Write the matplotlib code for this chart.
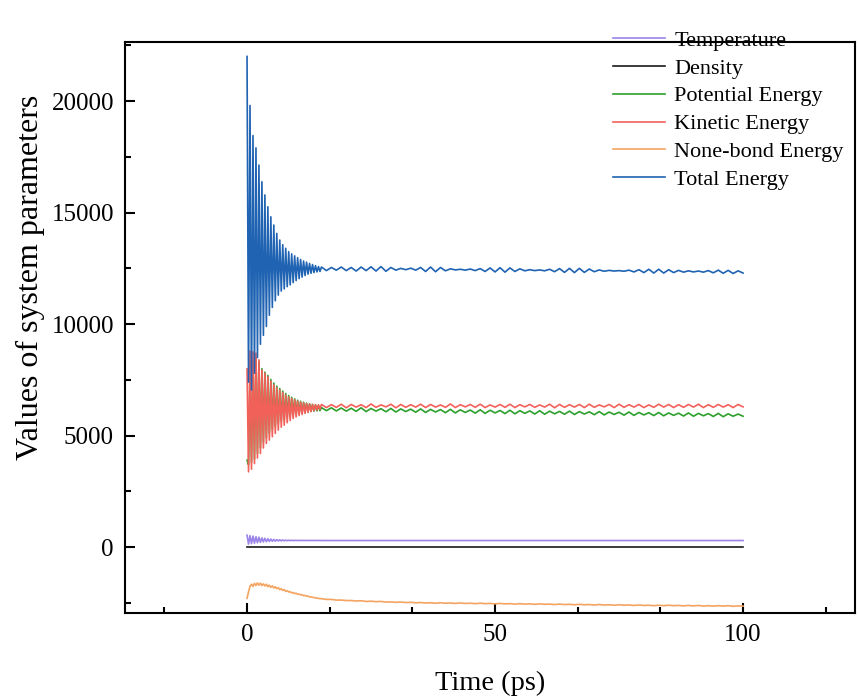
import numpy as np
import matplotlib
matplotlib.use("Agg")
import matplotlib.pyplot as plt
from matplotlib.ticker import MultipleLocator

plt.rcParams["font.family"] = ["Liberation Serif", "DejaVu Serif"]

# ── data ───────────────────────────────────────────────────────────────────
# fast part (0 - 14.7 ps): alternating crest / trough every 0.3 ps
t_fast = np.linspace(0, 14.7, 50)
# slow part (15 - 100 ps): one value per ps
t_slow = np.linspace(15, 100, 86)

total_crest = [22000, 19800, 18450, 17900, 17130, 16380, 15790, 15260, 14810, 14440,
               14070, 13770, 13560, 13400, 13250, 13150, 13060, 12980, 12900, 12830,
               12780, 12720, 12670, 12620, 12580]
total_trough = [7400, 7050, 7800, 8500, 9100, 9500, 9900, 10400, 10750, 11050,
                11300, 11480, 11580, 11680, 11760, 11860, 11950, 12040, 12110, 12180,
                12240, 12280, 12310, 12340, 12360]
total_slow = [12560, 12400, 12540, 12420, 12560, 12400, 12540, 12380, 12560, 12400,
              12570, 12380, 12580, 12370, 12540, 12420, 12500, 12440, 12510, 12420,
              12540, 12360, 12560, 12350, 12540, 12390, 12480, 12430, 12460, 12420,
              12470, 12400, 12490, 12360, 12520, 12340, 12530, 12330, 12520, 12360,
              12480, 12390, 12440, 12400, 12430, 12390, 12460, 12350, 12490, 12320,
              12500, 12310, 12500, 12320, 12470, 12350, 12430, 12370, 12410, 12380,
              12400, 12370, 12420, 12340, 12440, 12310, 12460, 12290, 12460, 12290,
              12440, 12310, 12410, 12330, 12390, 12340, 12380, 12330, 12400, 12300,
              12420, 12280, 12410, 12270, 12390, 12290]

kin_crest = [8000, 8800, 8760, 8700, 8400, 7940, 7800, 7640, 7450, 7280,
             7150, 7040, 6940, 6820, 6740, 6670, 6610, 6550, 6510, 6470,
             6440, 6420, 6400, 6390, 6380]
kin_trough = [3380, 3500, 3750, 4000, 4200, 4450, 4650, 4800, 4950, 5100,
              5250, 5380, 5470, 5580, 5680, 5770, 5840, 5900, 5950, 6000,
              6040, 6080, 6120, 6150, 6180]
kin_slow = [6400, 6260, 6390, 6270, 6410, 6250, 6400, 6280, 6390, 6260,
            6420, 6270, 6380, 6290, 6410, 6250, 6400, 6270, 6390, 6280,
            6410, 6260, 6400, 6280, 6380, 6270, 6420, 6260, 6390, 6290,
            6400, 6270, 6410, 6260, 6380, 6280, 6400, 6270, 6410, 6260,
            6390, 6290, 6400, 6270, 6380, 6280, 6410, 6250, 6400, 6270,
            6390, 6280, 6400, 6260, 6410, 6270, 6380, 6290, 6400, 6260,
            6410, 6270, 6390, 6280, 6400, 6260, 6380, 6270, 6410, 6280,
            6400, 6260, 6390, 6270, 6400, 6280, 6410, 6260, 6390, 6270,
            6400, 6280, 6390, 6260, 6400, 6290]

pot_crest = [3900, 7800, 8300, 8500, 8300, 8000, 7850, 7700, 7520, 7360,
             7220, 7110, 7000, 6890, 6800, 6720, 6650, 6590, 6540, 6500,
             6460, 6430, 6400, 6380, 6360]
pot_trough = [3700, 3800, 3950, 4200, 4450, 4700, 4900, 5100, 5280, 5420,
              5550, 5660, 5750, 5830, 5890, 5940, 5980, 6010, 6040, 6060,
              6080, 6090, 6100, 6110, 6120]
pot_slow = [6260, 6120, 6250, 6110, 6240, 6100, 6230, 6090, 6250, 6080,
            6220, 6100, 6210, 6070, 6220, 6060, 6200, 6080, 6190, 6050,
            6200, 6040, 6180, 6060, 6170, 6030, 6180, 6020, 6160, 6040,
            6150, 6010, 6160, 6000, 6140, 6020, 6130, 5990, 6140, 5980,
            6120, 6000, 6110, 5970, 6120, 5960, 6100, 5980, 6090, 5960,
            6100, 5950, 6080, 5970, 6070, 5940, 6080, 5930, 6060, 5950,
            6050, 5920, 6060, 5910, 6040, 5930, 6030, 5900, 6040, 5890,
            6020, 5910, 6010, 5880, 6020, 5870, 6000, 5890, 5990, 5860,
            6000, 5850, 5980, 5870, 5970, 5870]

temp_crest = [540, 520, 500, 470, 450, 420, 400, 380, 365, 350,
              340, 332, 326, 320, 316, 313, 311, 309, 308, 307,
              306, 305, 304, 304, 303]
temp_trough = [140, 160, 180, 200, 220, 235, 248, 258, 266, 273,
               279, 284, 288, 291, 293, 295, 296, 297, 298, 298,
               299, 299, 299, 300, 300]
temp_slow = [300] * 86

density_fast = [1.0] * 50
density_slow = [1.0] * 86

nb_fast = [-2290, -2000, -1750, -1660, -1760, -1620, -1720, -1600, -1700, -1610,
           -1720, -1640, -1740, -1660, -1770, -1700, -1800, -1730, -1830, -1770,
           -1860, -1810, -1900, -1860, -1940, -1900, -1980, -1950, -2010, -1990,
           -2050, -2030, -2080, -2060, -2110, -2100, -2140, -2130, -2170, -2160,
           -2200, -2190, -2230, -2220, -2250, -2250, -2280, -2270, -2300, -2300]
nb_slow = [-2310, -2340, -2340, -2370, -2370, -2390, -2390, -2410, -2400, -2430,
           -2420, -2440, -2430, -2460, -2450, -2470, -2460, -2480, -2470, -2490,
           -2480, -2500, -2490, -2510, -2490, -2510, -2500, -2520, -2500, -2520,
           -2510, -2530, -2510, -2530, -2520, -2540, -2520, -2540, -2530, -2550,
           -2530, -2550, -2540, -2560, -2540, -2560, -2550, -2570, -2550, -2570,
           -2560, -2580, -2560, -2580, -2570, -2590, -2570, -2590, -2580, -2600,
           -2580, -2600, -2590, -2610, -2590, -2610, -2600, -2620, -2600, -2620,
           -2600, -2620, -2610, -2630, -2610, -2630, -2610, -2640, -2620, -2640,
           -2620, -2640, -2620, -2650, -2630, -2640]

COLORS = {
    "Temperature": "#9b84e8",
    "Density": "#1a1a1a",
    "Potential Energy": "#2ca02c",
    "Kinetic Energy": "#f2605a",
    "None-bond Energy": "#f4a460",
    "Total Energy": "#1f63b2",
}


def zigzag(crest, trough):
    vals = np.empty(len(crest) + len(trough))
    vals[0::2] = crest
    vals[1::2] = trough
    return vals


t_all = np.concatenate([t_fast, t_slow])
series = {
    "Temperature": np.concatenate([zigzag(temp_crest, temp_trough), temp_slow]),
    "Density": np.concatenate([density_fast, density_slow]),
    "Potential Energy": np.concatenate([zigzag(pot_crest, pot_trough), pot_slow]),
    "Kinetic Energy": np.concatenate([zigzag(kin_crest, kin_trough), kin_slow]),
    "None-bond Energy": np.concatenate([nb_fast, nb_slow]),
    "Total Energy": np.concatenate([zigzag(total_crest, total_trough), total_slow]),
}

# ── plot ──────────────────────────────────────────────────────────────────
fig = plt.figure(figsize=(8.58, 6.99), dpi=100)
ax = fig.add_axes([0.1457, 0.123, 0.851, 0.817])

for name, vals in series.items():
    ax.plot(t_all, vals, color=COLORS[name], lw=1.2, label=name)

ax.set_xlim(-24.6, 122.6)
ax.set_ylim(-2950, 22650)
ax.xaxis.set_major_locator(MultipleLocator(50))
ax.xaxis.set_minor_locator(MultipleLocator(50 / 3))
ax.yaxis.set_major_locator(MultipleLocator(5000))
ax.yaxis.set_minor_locator(MultipleLocator(2500))
ax.tick_params(which="both", direction="in", top=False, right=False, width=1.5)
ax.tick_params(which="major", length=7, labelsize=18, pad=8)
ax.tick_params(which="minor", length=4.5)
for sp in ax.spines.values():
    sp.set_linewidth(1.5)

ax.set_xlabel("Time (ps)", fontsize=20.5, labelpad=18)
ax.set_ylabel("Values of system parameters", fontsize=23)
ax.yaxis.set_label_coords(-0.11, 0.587)

ax.legend(loc="upper left", bbox_to_anchor=(0.7145, 0.957),
          bbox_transform=fig.transFigure, frameon=False, fontsize=16,
          borderpad=0, borderaxespad=0, handlelength=2.35, handletextpad=0.4,
          labelspacing=0.33)

fig.savefig("out.png", dpi=100)
